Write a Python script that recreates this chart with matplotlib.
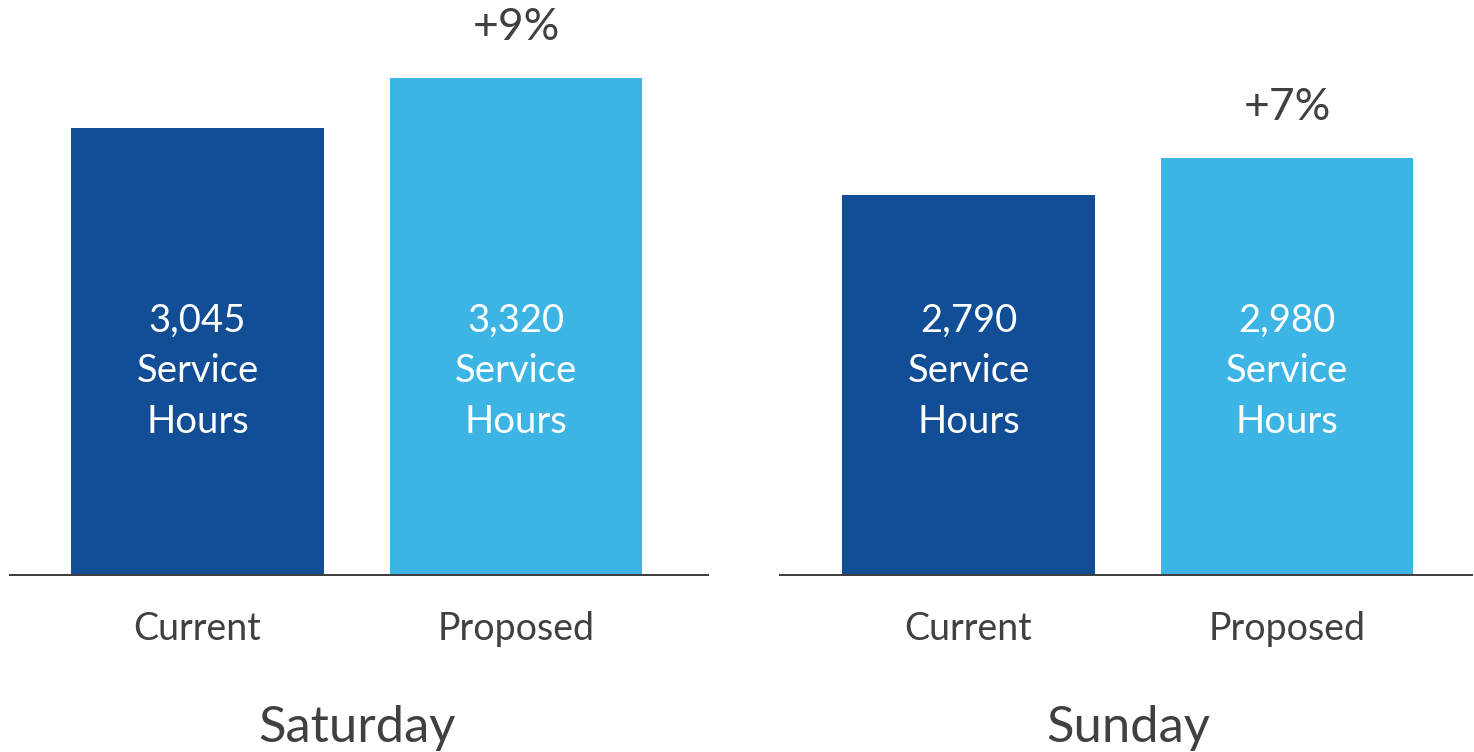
import matplotlib.pyplot as plt

plt.rcParams['font.family'] = ['Lato', 'DejaVu Sans']

days = ['Saturday', 'Sunday']
categories = ['Current', 'Proposed']
saturday_hours = [3045, 3320]
sunday_hours = [2790, 2980]

dark_blue = '#124E96'
light_blue = '#3CB5E5'
grey = '#404040'

fig = plt.figure(figsize=(14.74, 7.52), dpi=100)
ax_sat = fig.add_axes([10 / 1474, 1 - 575 / 752, 698 / 1474, 575 / 752])
ax_sun = fig.add_axes([780 / 1474, 1 - 575 / 752, 692 / 1474, 575 / 752])

# 两个面板各自的坐标范围（原图两边比例不一样）
panels = [
    (ax_sat, days[0], saturday_hours, (-0.589, 1.603), (586.5, 3749)),
    (ax_sun, days[1], sunday_hours, (-0.592, 1.581), (838.6, 3791)),
]

for ax, day, hours, xlim, ylim in panels:
    x = list(range(len(categories)))
    ax.bar(x, hours, width=0.792, color=[dark_blue, light_blue])
    ax.set_xlim(*xlim)
    ax.set_ylim(*ylim)

    # 柱内文字
    tr = ax.get_xaxis_transform()
    for xi, v in zip(x, hours):
        for yy, s in zip([0.4226, 0.3357, 0.247], [f'{v:,}', 'Service', 'Hours']):
            ax.text(xi, yy, s, transform=tr, ha='center', va='baseline',
                    color='white', fontsize=27.5)

    # 增长百分比
    pct = (hours[1] / hours[0] - 1) * 100
    ax.annotate(f'+{pct:.0f}%', xy=(1, hours[1]), xytext=(0, 27),
                textcoords='offset points', ha='center', va='baseline',
                color=grey, fontsize=32, annotation_clip=False)

    ax.set_xticks(x)
    ax.set_xticklabels(categories, fontsize=27, color=grey)
    for lbl in ax.get_xticklabels():
        lbl.set_va('baseline')
    ax.tick_params(axis='x', length=0, pad=46.8)
    ax.set_yticks([])

    ax.text(0.5, -0.2904, day, transform=tr, ha='center', va='baseline',
            color=grey, fontsize=36.5)

    for side in ['left', 'right', 'top']:
        ax.spines[side].set_visible(False)
    ax.spines['bottom'].set_color(grey)
    ax.spines['bottom'].set_linewidth(1.44)

fig.savefig('out.png', dpi=100)
